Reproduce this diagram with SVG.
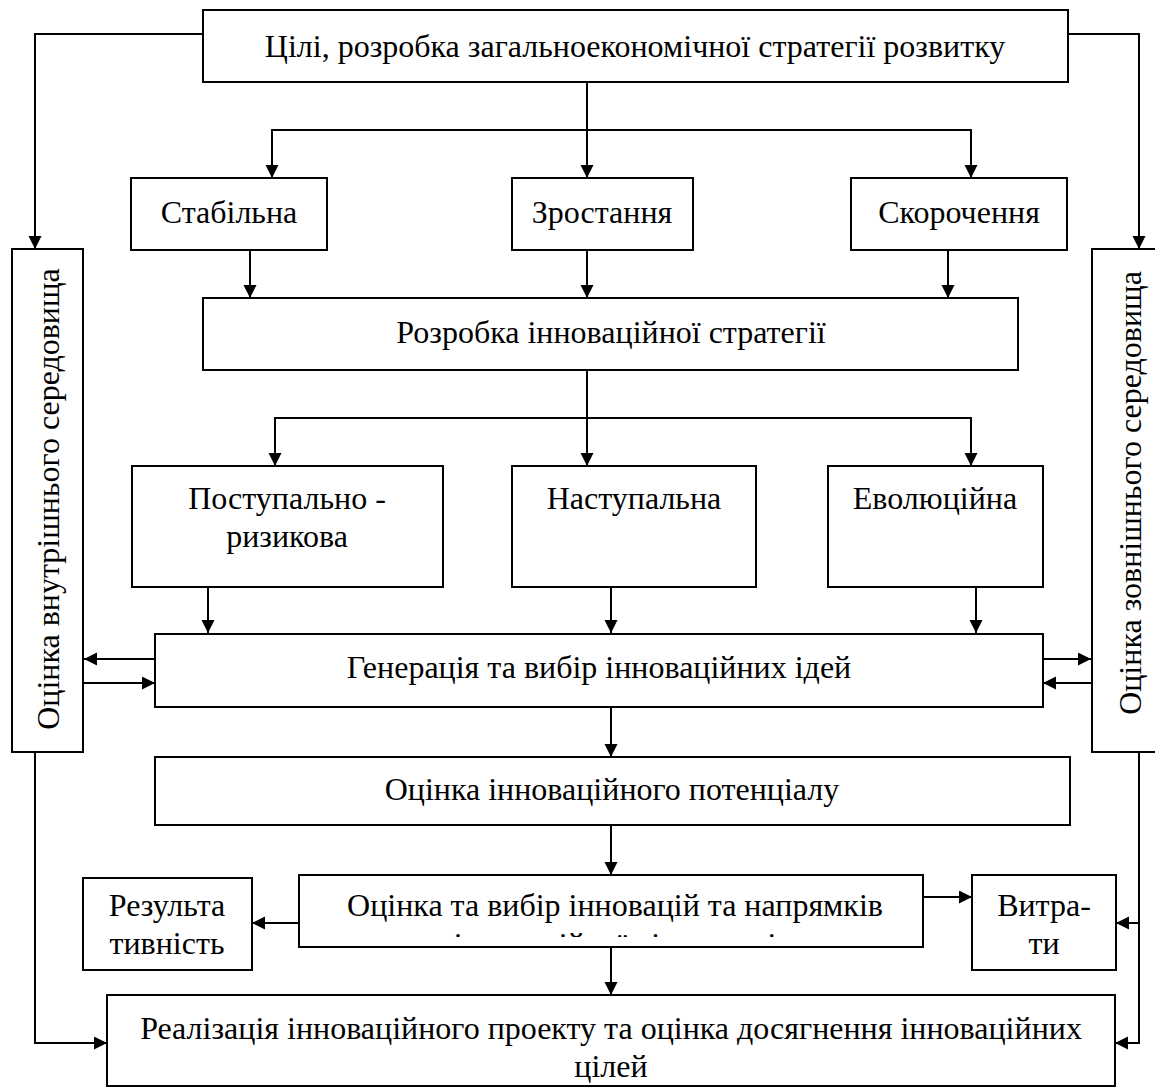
<svg xmlns="http://www.w3.org/2000/svg" width="1155" height="1088" viewBox="0 0 1155 1088">
<defs>
<marker id="ah" markerUnits="userSpaceOnUse" markerWidth="14" markerHeight="14" refX="13" refY="6.5" orient="auto">
<path d="M0,0 L13,6.5 L0,13 z" fill="#000"/>
</marker>
<clipPath id="clipSel"><rect x="299" y="875" width="624" height="62"/></clipPath>
</defs>
<style>
.box{fill:#fff;stroke:#000;stroke-width:2}
.t{font-family:"Liberation Serif","DejaVu Serif","Times New Roman",serif;font-size:32px;fill:#000;text-anchor:middle}
.c{fill:none;stroke:#000;stroke-width:2}
.a{marker-end:url(#ah)}
</style>
<rect width="1155" height="1088" fill="#fff"/>
<g id="connectors">
<path class="c a" d="M203,34 H35 V249"/>
<path class="c a" d="M1068,34 H1139 V249"/>
<path class="c a" d="M587,82 V178"/>
<path class="c a" d="M587,130 H272 V178"/>
<path class="c a" d="M587,130 H971 V178"/>
<path class="c a" d="M250,250 V298"/>
<path class="c a" d="M587,250 V298"/>
<path class="c a" d="M948,250 V298"/>
<path class="c a" d="M587,370 V466"/>
<path class="c a" d="M587,418 H275 V466"/>
<path class="c a" d="M587,418 H971 V466"/>
<path class="c a" d="M208,587 V633"/>
<path class="c a" d="M611,587 V633"/>
<path class="c a" d="M976,587 V633"/>
<path class="c a" d="M155,659 H84"/>
<path class="c a" d="M84,683 H155"/>
<path class="c a" d="M1043,659 H1091"/>
<path class="c a" d="M1091,683 H1043"/>
<path class="c a" d="M611,707 V757"/>
<path class="c a" d="M611,825 V875"/>
<path class="c a" d="M299,923 H252"/>
<path class="c a" d="M923,897 H972"/>
<path class="c a" d="M611,947 V995"/>
<path class="c a" d="M35,752 V1043 H107"/>
<path class="c a" d="M1139,752 V1043 H1115"/>
<path class="c a" d="M1139,923 H1116"/>
</g>
<g id="n-goals"><rect class="box" x="203" y="10" width="865" height="72"/><text class="t" x="635" y="57">Цілі, розробка загальноекономічної стратегії розвитку</text></g>
<g id="n-internal"><rect class="box" x="12" y="249" width="71" height="503"/><text class="t" transform="translate(59,499) rotate(-90)">Оцінка внутрішнього середовища</text></g>
<g id="n-external"><rect class="box" x="1092" y="249" width="70" height="503"/><text class="t" transform="translate(1141,493) rotate(-90)">Оцінка зовнішнього середовища</text></g>
<g id="n-stable"><rect class="box" x="131" y="178" width="196" height="72"/><text class="t" x="229" y="223">Стабільна</text></g>
<g id="n-growth"><rect class="box" x="512" y="178" width="181" height="72"/><text class="t" x="602" y="223">Зростання</text></g>
<g id="n-reduce"><rect class="box" x="851" y="178" width="216" height="72"/><text class="t" x="959" y="223">Скорочення</text></g>
<g id="n-innov"><rect class="box" x="203" y="298" width="815" height="72"/><text class="t" x="611" y="343">Розробка інноваційної стратегії</text></g>
<g id="n-prog"><rect class="box" x="132" y="466" width="311" height="121"/><text class="t" x="287" y="509">Поступально -</text><text class="t" x="287" y="547">ризикова</text></g>
<g id="n-offens"><rect class="box" x="512" y="466" width="244" height="121"/><text class="t" x="634" y="509">Наступальна</text></g>
<g id="n-evol"><rect class="box" x="828" y="466" width="215" height="121"/><text class="t" x="935" y="509">Еволюційна</text></g>
<g id="n-gen"><rect class="box" x="155" y="634" width="888" height="73"/><text class="t" x="599" y="678">Генерація та вибір інноваційних ідей</text></g>
<g id="n-pot"><rect class="box" x="155" y="757" width="915" height="68"/><text class="t" x="612" y="800">Оцінка інноваційного потенціалу</text></g>
<g id="n-sel"><rect class="box" x="299" y="875" width="624" height="72"/><text class="t" x="615" y="916">Оцінка та вибір інновацій та напрямків</text><text class="t" x="615" y="955" clip-path="url(#clipSel)">інноваційної діяльності</text></g>
<g id="n-result"><rect class="box" x="83" y="878" width="169" height="92"/><text class="t" x="167" y="916">Результа</text><text class="t" x="167" y="954">тивність</text></g>
<g id="n-cost"><rect class="box" x="972" y="875" width="144" height="95"/><text class="t" x="1044" y="916">Витра-</text><text class="t" x="1044" y="954">ти</text></g>
<g id="n-impl"><rect class="box" x="107" y="995" width="1008" height="91"/><text class="t" x="611" y="1039">Реалізація інноваційного проекту та оцінка досягнення інноваційних</text><text class="t" x="611" y="1077">цілей</text></g>
</svg>
